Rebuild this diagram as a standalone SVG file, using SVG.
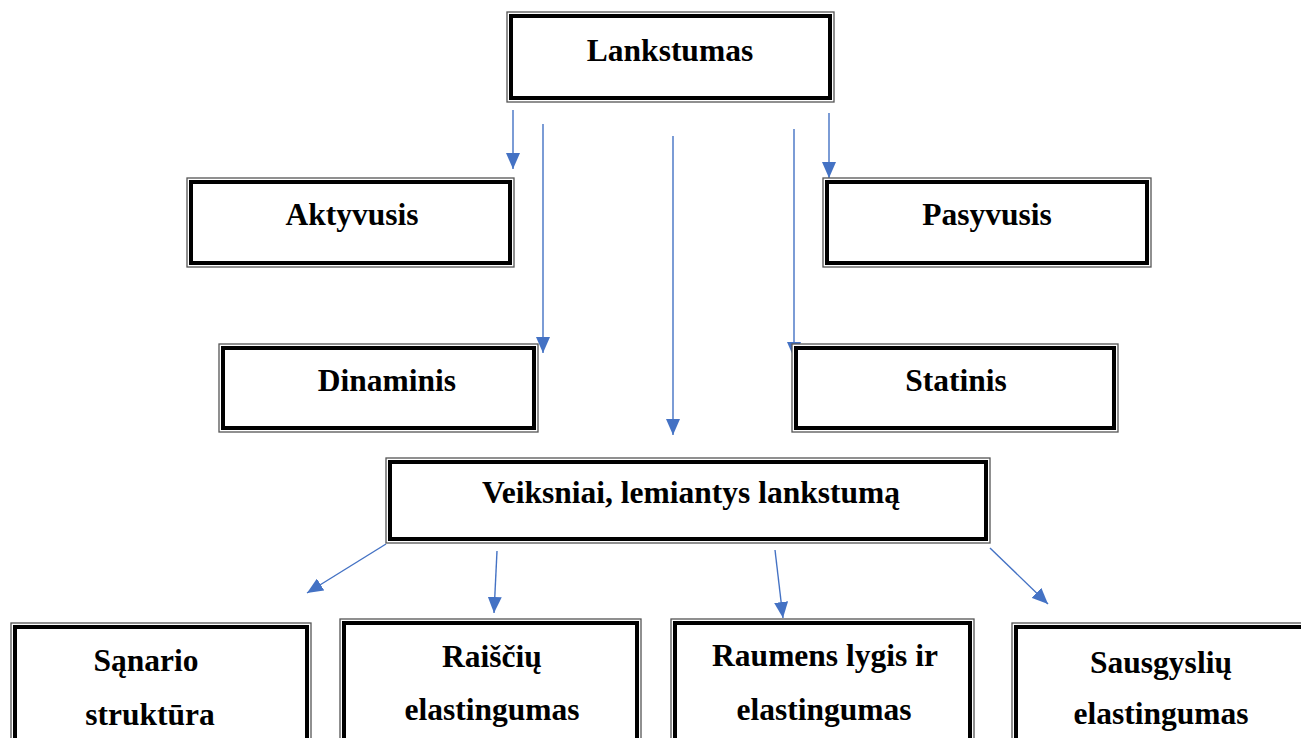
<svg xmlns="http://www.w3.org/2000/svg" width="1301" height="738" viewBox="0 0 1301 738">
<defs>
<style>
.outer{fill:#fff;stroke:#555;stroke-width:1.3}
.inner{fill:none;stroke:#000;stroke-width:4}
.t{font-family:"Liberation Serif","Times New Roman",serif;font-weight:bold;font-size:31.5px;fill:#000;text-anchor:middle}
.c{stroke:#4472C4;stroke-width:1.4;fill:none;marker-end:url(#ah)}
</style>
<marker id="ah" markerUnits="userSpaceOnUse" markerWidth="16" markerHeight="14" refX="16" refY="7" orient="auto">
<path d="M0,0 L16,7 L0,14 z" fill="#4472C4"/>
</marker>
</defs>
<rect width="1301" height="738" fill="#fff"/>
<g id="connectors">
<line class="c" x1="513" y1="110" x2="513" y2="169"/>
<line class="c" x1="543" y1="124" x2="543" y2="353"/>
<line class="c" x1="673" y1="136" x2="673" y2="435"/>
<line class="c" x1="794" y1="129" x2="794" y2="358"/>
<line class="c" x1="829" y1="113" x2="829" y2="178"/>
<line class="c" x1="386" y1="544" x2="307" y2="593"/>
<line class="c" x1="497" y1="551" x2="494" y2="613"/>
<line class="c" x1="775" y1="550" x2="783" y2="618"/>
<line class="c" x1="990" y1="548" x2="1048" y2="604"/>
</g>
<g id="lankstumas">
<rect class="outer" x="507" y="12" width="327" height="90"/>
<rect class="inner" x="511" y="16" width="319" height="82"/>
<text class="t" x="670" y="61">Lankstumas</text>
</g>
<g id="aktyvusis">
<rect class="outer" x="187" y="178" width="327" height="89"/>
<rect class="inner" x="191" y="182" width="319" height="81"/>
<text class="t" x="352" y="225">Aktyvusis</text>
</g>
<g id="pasyvusis">
<rect class="outer" x="823" y="178" width="328" height="89"/>
<rect class="inner" x="827" y="182" width="320" height="81"/>
<text class="t" x="987" y="225">Pasyvusis</text>
</g>
<g id="dinaminis">
<rect class="outer" x="219" y="344" width="319" height="88"/>
<rect class="inner" x="223" y="348" width="311" height="80"/>
<text class="t" x="387" y="391">Dinaminis</text>
</g>
<g id="statinis">
<rect class="outer" x="792" y="344" width="326" height="88"/>
<rect class="inner" x="796" y="348" width="318" height="80"/>
<text class="t" x="956" y="391">Statinis</text>
</g>
<g id="veiksniai">
<rect class="outer" x="386" y="458" width="604" height="85"/>
<rect class="inner" x="390" y="462" width="596" height="77"/>
<text class="t" x="691" y="503">Veiksniai, lemiantys lankstumą</text>
</g>
<g id="sanario">
<rect class="outer" x="11" y="623" width="300" height="140"/>
<rect class="inner" x="15" y="627" width="292" height="132"/>
<text class="t" x="146" y="671">Sąnario</text>
<text class="t" x="150" y="725">struktūra</text>
</g>
<g id="raisciu">
<rect class="outer" x="340" y="619" width="301" height="140"/>
<rect class="inner" x="344" y="623" width="293" height="132"/>
<text class="t" x="492" y="667">Raiščių</text>
<text class="t" x="492" y="720">elastingumas</text>
</g>
<g id="raumens">
<rect class="outer" x="671" y="619" width="303" height="140"/>
<rect class="inner" x="675" y="623" width="295" height="132"/>
<text class="t" x="825" y="666">Raumens lygis ir</text>
<text class="t" x="824" y="720">elastingumas</text>
</g>
<g id="sausgysliu">
<rect class="outer" x="1012" y="623" width="300" height="140"/>
<rect class="inner" x="1016" y="627" width="292" height="132"/>
<text class="t" x="1161" y="673">Sausgyslių</text>
<text class="t" x="1161" y="724">elastingumas</text>
</g>
</svg>
